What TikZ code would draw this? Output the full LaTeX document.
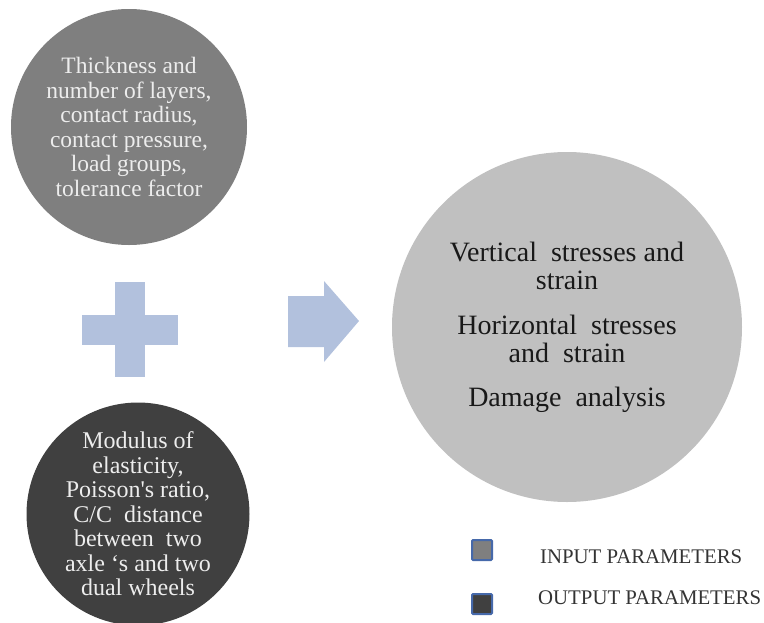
\documentclass[tikz,border=0pt]{standalone}
\usepackage{fontspec}
\setmainfont{Liberation Serif}

\definecolor{ingray}{RGB}{127,127,127}
\definecolor{outgray}{RGB}{64,64,64}
\definecolor{resgray}{RGB}{192,192,192}
\definecolor{signblue}{RGB}{178,193,221}
\definecolor{keyblue}{RGB}{70,105,170}

\tikzstyle{disc} = [circle, inner sep=0pt, align=center]
\tikzstyle{sign} = [fill=signblue]
\tikzstyle{key} = [draw=keyblue, line width=2pt, rounded corners=1pt, minimum size=20pt, inner sep=0pt]
\tikzstyle{keytext} = [anchor=base west, inner sep=0pt, text=black!80, font=\rmfamily\fontsize{20.8}{21}\selectfont]

\begin{document}
\begin{tikzpicture}[x=1pt,y=-1pt]
			\useasboundingbox (0,0) rectangle (764,622);
			% input circles
			\node[disc, fill=ingray, minimum size=236pt, text=white!93!black,
				font=\rmfamily\fontsize{23.5}{24.5}\selectfont] (layers) at (129,127)
				{Thickness and\\number of layers,\\contact radius,\\contact pressure,\\load groups,\\tolerance factor};
			\node[disc, fill=outgray, minimum size=223pt, text=white!93!black,
				font=\rmfamily\fontsize{24}{24.5}\selectfont] (elastic) at (138,514)
				{Modulus of\\elasticity,\\Poisson\textquotesingle s ratio,\\C/C\ \ distance\\between\ \ two\\axle \textquoteleft s and two\\dual wheels};
			% output circle
			\node[disc, fill=resgray, minimum size=350pt, text=black!90,
				font=\rmfamily\fontsize{28}{28}\selectfont] (stresses) at (567,327)
				{Vertical\ \ stresses and\\strain\\[17pt]Horizontal\ \ stresses\\and\ \ strain\\[16pt]Damage\ \ analysis};
			% plus sign and arrow
			\fill[sign] (82,315) rectangle (178,345);
			\fill[sign] (115,282) rectangle (145,377);
			\fill[sign] (288,296) -- (324,296) -- (324,281) -- (359,321) -- (324,362) -- (324,347) -- (288,347) -- cycle;
			% legend
			\node[key, fill=ingray] (inkey) at (482,550) {};
			\node[key, fill=outgray] (outkey) at (482,604) {};
			\node[keytext] (inlabel) at (540,563) {INPUT PARAMETERS};
			\node[keytext] (outlabel) at (538,604) {OUTPUT PARAMETERS};
		\end{tikzpicture}
\end{document}
